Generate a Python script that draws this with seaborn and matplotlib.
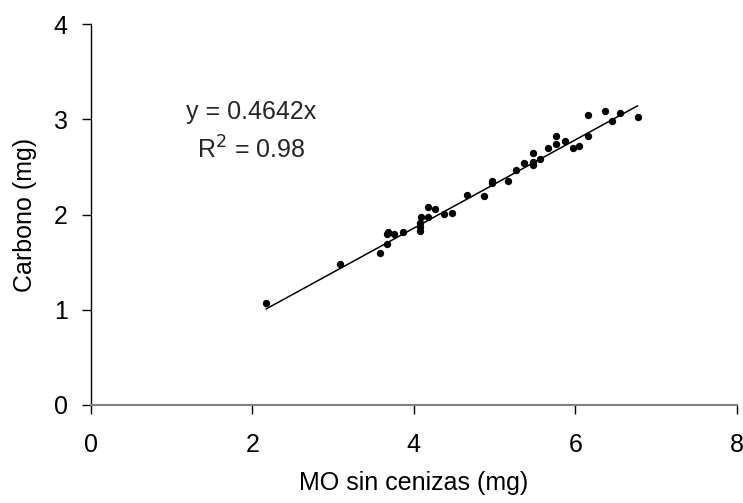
import numpy as np
import pandas as pd
import matplotlib
matplotlib.use("Agg")
import matplotlib.pyplot as plt
import seaborn as sns

# Ash-free organic matter (mg) and carbon content (mg)
mo_sin_cenizas = [2.17, 3.08, 3.58, 3.67, 3.67, 3.68, 3.76, 3.86, 4.08, 4.08, 4.08, 4.09,
                  4.17, 4.18, 4.26, 4.37, 4.47, 4.66, 4.87, 4.97, 4.97, 5.16, 5.26, 5.36,
                  5.47, 5.47, 5.47, 5.56, 5.66, 5.76, 5.76, 5.87, 5.97, 6.05, 6.16, 6.16,
                  6.37, 6.45, 6.55, 6.77]
carbono = [1.07, 1.48, 1.60, 1.69, 1.80, 1.82, 1.80, 1.82, 1.83, 1.87, 1.91, 1.97,
           1.97, 2.08, 2.06, 2.01, 2.02, 2.20, 2.19, 2.33, 2.35, 2.35, 2.47, 2.54,
           2.65, 2.55, 2.52, 2.58, 2.70, 2.82, 2.74, 2.77, 2.70, 2.72, 3.05, 2.82,
           3.09, 2.98, 3.07, 3.02]

pendiente = 0.4642
r2 = 0.98

xticks = [0, 2, 4, 6, 8]
yticks = [0, 1, 2, 3, 4]

sns.set_theme(style="white")
plt.rcParams["font.family"] = ["Liberation Sans", "DejaVu Sans"]

FS = 18

df = pd.DataFrame({"x": mo_sin_cenizas, "y": carbono})
x_fit = np.array([min(mo_sin_cenizas), max(mo_sin_cenizas)])
fit = pd.DataFrame({"x": x_fit, "y": pendiente * x_fit})

fig = plt.figure(figsize=(7.43, 5.03), dpi=100)
ax = fig.add_axes([0.122, 0.195, 0.870, 0.757])

sns.lineplot(data=fit, x="x", y="y", ax=ax, color="black", linewidth=1.1)
sns.scatterplot(data=df, x="x", y="y", ax=ax, color="black", s=28,
                edgecolor="black", linewidth=0, zorder=3)

ax.set_xlim(0, 8)
ax.set_ylim(0, 4)
ax.set_xticks(xticks)
ax.set_yticks(yticks)
ax.tick_params(axis="both", labelsize=FS, colors="black", length=6.5, width=1,
               direction="out", bottom=True, left=True)
ax.tick_params(axis="x", pad=14)
ax.tick_params(axis="y", pad=10)

for side in ["top", "right"]:
    ax.spines[side].set_visible(False)
ax.spines["left"].set_color("black")
ax.spines["left"].set_linewidth(1)
ax.spines["bottom"].set_color("#808080")
ax.spines["bottom"].set_linewidth(1.5)

ax.set_xlabel("MO sin cenizas (mg)", fontsize=FS, color="black", labelpad=10)
ax.set_ylabel("Carbono (mg)", fontsize=FS, color="black", labelpad=12)

ax.text(1.99, 3.08, f"y = {pendiente:.4f}x", fontsize=FS, ha="center", va="center")
ax.text(1.99, 2.68, f"R$^2$ = {r2:.2f}", fontsize=FS, ha="center", va="center")

fig.savefig("out.png", dpi=100)
